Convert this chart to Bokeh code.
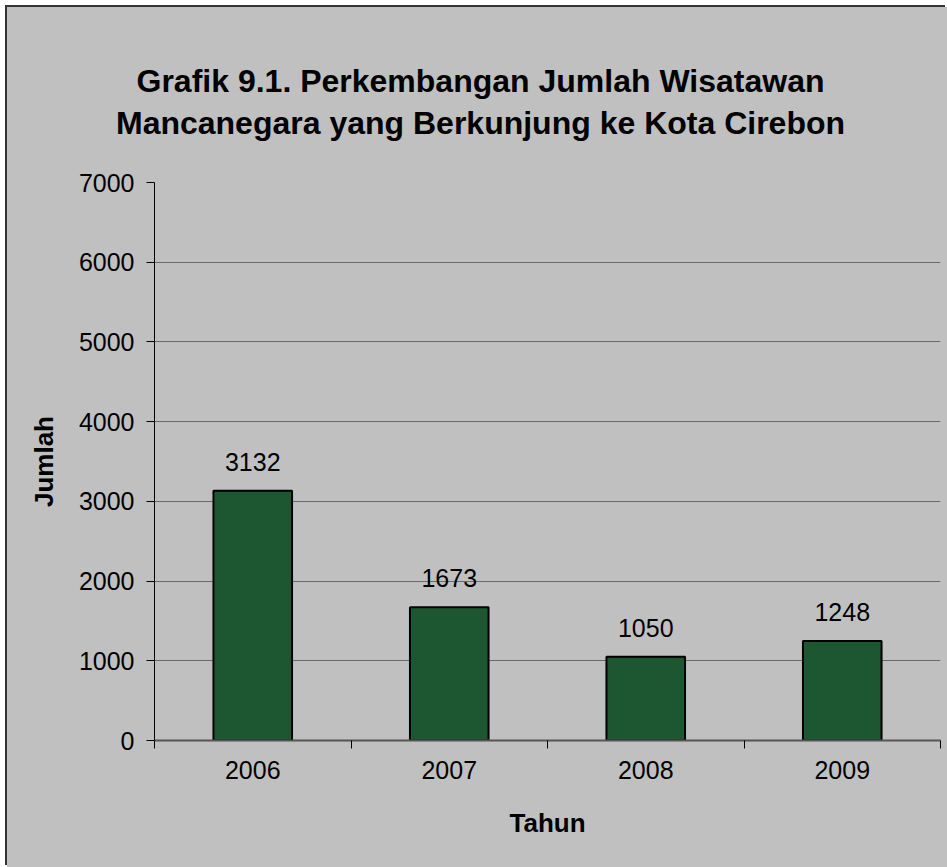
from bokeh.plotting import figure
from bokeh.layouts import column
from bokeh.models import Range1d, FixedTicker, ColumnDataSource
from bokeh.core.properties import value
from bokeh.embed import file_html
from bokeh.resources import INLINE

# ---- data ----
categories = ["2006", "2007", "2008", "2009"]
jumlah = [3132, 1673, 1050, 1248]
y_ticks = [0, 1000, 2000, 3000, 4000, 5000, 6000, 7000]
title_lines = ["Grafik 9.1. Perkembangan Jumlah Wisatawan",
               "Mancanegara yang Berkunjung ke Kota Cirebon"]
x_title = "Tahun"
y_title = "Jumlah"

FONT = "Liberation Sans"
BG = "#C0C0C0"
W = 940
TOP_H = 160
MAIN_H = 700
LEFT = 147
RIGHT = W - LEFT - 786

# ---- title strip (canvas-pixel coordinates, frame fills the strip) ----
t = figure(width=W, height=TOP_H, output_backend="svg", toolbar_location=None,
           x_range=Range1d(0, W), y_range=Range1d(0, TOP_H),
           x_axis_location=None, y_axis_location=None, min_border=0)
t.frame_align = False
t.background_fill_color = BG
t.border_fill_color = BG
t.outline_line_color = None
t.grid.visible = False
t.text(x=[473, 473], y=[TOP_H - 73, TOP_H - 115], text=title_lines,
       text_align="center", text_baseline="middle",
       text_font=value(FONT), text_font_style="bold", text_font_size="32px",
       text_color="black")

# ---- main chart ----
xs = [i + 0.5 for i in range(len(categories))]
src = ColumnDataSource(dict(x=xs, top=jumlah, label=[str(v) for v in jumlah]))

p = figure(width=W, height=MAIN_H, output_backend="svg", toolbar_location=None,
           x_range=Range1d(0, len(categories)), y_range=Range1d(0, 7000),
           min_border_left=LEFT, min_border_right=RIGHT, min_border_top=15,
           min_border_bottom=MAIN_H - 15 - 558)
p.frame_align = False
p.background_fill_color = BG
p.border_fill_color = BG
p.outline_line_color = None

# grid
p.xgrid.visible = False
p.ygrid.ticker = FixedTicker(ticks=y_ticks)
p.ygrid.grid_line_color = "#6a6a6a"
p.ygrid.grid_line_width = 1

# y axis
ya = p.yaxis[0]
ya.ticker = FixedTicker(ticks=y_ticks)
ya.axis_line_color = "black"
ya.major_tick_line_color = "black"
ya.major_tick_in = 0
ya.major_tick_out = 8
ya.minor_tick_line_color = None
ya.major_label_text_font = FONT
ya.major_label_text_font_size = "25px"
ya.major_label_text_color = "black"
ya.major_label_standoff = 12
ya.axis_label = y_title
ya.axis_label_text_font = FONT
ya.axis_label_text_font_style = "bold"
ya.axis_label_text_font_size = "26px"
ya.axis_label_text_color = "black"
ya.axis_label_standoff = 17

# x axis: labels at category centres, tick marks at category boundaries
xa = p.xaxis[0]
xa.ticker = FixedTicker(ticks=xs, minor_ticks=list(range(len(categories) + 1)))
xa.major_label_overrides = {x: c for x, c in zip(xs, categories)}
xa.major_tick_line_color = None
xa.minor_tick_line_color = "black"
xa.minor_tick_in = 0
xa.minor_tick_out = 8
xa.axis_line_color = "#555555"
xa.axis_line_width = 2
xa.major_label_text_font = FONT
xa.major_label_text_font_size = "25px"
xa.major_label_text_color = "black"
xa.major_label_standoff = 12
xa.axis_label = x_title
xa.axis_label_text_font = FONT
xa.axis_label_text_font_style = "bold"
xa.axis_label_text_font_size = "26px"
xa.axis_label_text_color = "black"
xa.axis_label_standoff = 26

# bars
p.vbar(x="x", top="top", width=0.4, bottom=0, source=src,
       fill_color="#1c5732", line_color="black", line_width=2)

# value labels
p.text(x="x", y="top", text="label", source=src, y_offset=-29,
       text_align="center", text_baseline="middle",
       text_font=value(FONT), text_font_size="25px", text_color="black")

layout = column(t, p, spacing=0, margin=(7, 0, 0, 7))
layout.styles = {"box-shadow": "-2px -2px 0px 0px #333333",
                 "background-color": BG}

open("out.html", "w").write(file_html(layout, INLINE))
